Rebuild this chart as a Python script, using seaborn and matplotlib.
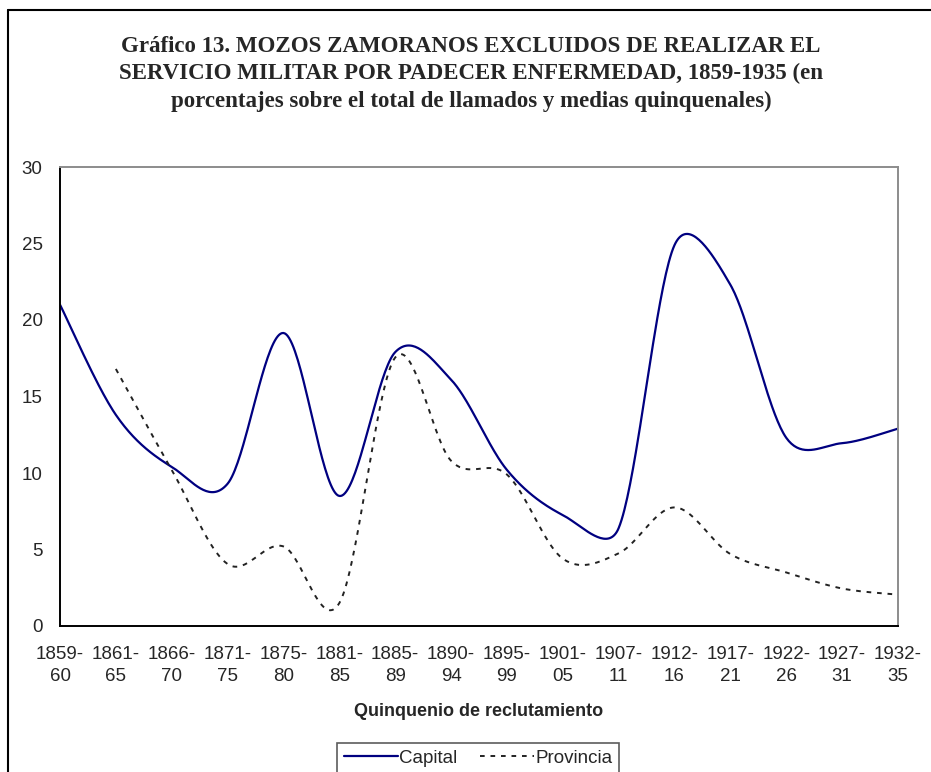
import numpy as np
import pandas as pd
import matplotlib
matplotlib.use("Agg")
import matplotlib.pyplot as plt
from matplotlib.lines import Line2D
import seaborn as sns

# ---------------- data ----------------
categories = ["1859-\n60", "1861-\n65", "1866-\n70", "1871-\n75", "1875-\n80", "1881-\n85",
              "1885-\n89", "1890-\n94", "1895-\n99", "1901-\n05", "1907-\n11", "1912-\n16",
              "1917-\n21", "1922-\n26", "1927-\n31", "1932-\n35"]
capital = [21.0, 13.8, 10.4, 9.3, 19.15, 8.5, 17.9, 16.1, 10.2, 7.25, 6.4, 24.9, 22.3, 12.3, 11.95, 12.9]
provincia = [np.nan, 16.8, 10.2, 4.05, 5.2, 1.5, 17.55, 10.8, 9.9, 4.4, 4.75, 7.75, 4.7, 3.5, 2.45, 2.05]
yticks = [0, 5, 10, 15, 20, 25, 30]
title = ("Gráfico 13. MOZOS ZAMORANOS EXCLUIDOS DE REALIZAR EL\n"
         "SERVICIO MILITAR POR PADECER ENFERMEDAD, 1859-1935 (en\n"
         "porcentajes sobre el total de llamados y medias quinquenales)")
xlabel = "Quinquenio de reclutamiento"

# ---------------- figure ----------------
sns.set_style("white")
plt.rcParams["font.family"] = ["Liberation Sans", "DejaVu Sans"]

W, H = 931, 772
fig = plt.figure(figsize=(W / 100, H / 100), dpi=100)
ax = fig.add_axes([60 / W, 1 - 626 / H, (898 - 60) / W, (626 - 167) / H])
ax.set_xlim(0, len(categories) - 1)
ax.set_ylim(0, 30)


def smooth_curve(xs, ys, n=40):
    """Excel-like smoothed line (Bezier through the points) computed in display space."""
    pts = ax.transData.transform(np.column_stack([xs, ys]))
    m = len(pts)
    out = [pts[0]]
    for i in range(m - 1):
        p0 = pts[i - 1] if i > 0 else pts[i]
        p1 = pts[i]
        p2 = pts[i + 1]
        p3 = pts[i + 2] if i + 2 < m else pts[i + 1]
        d12 = np.linalg.norm(p2 - p1)
        t1 = p2 - p0
        t2 = p3 - p1
        n1 = np.linalg.norm(t1)
        n2 = np.linalg.norm(t2)
        f1 = 1 / 6 if n1 / 6 < d12 / 2 else (d12 / 2) / n1 if n1 > 0 else 0
        f2 = 1 / 6 if n2 / 6 < d12 / 2 else (d12 / 2) / n2 if n2 > 0 else 0
        c1 = p1 + t1 * f1
        c2 = p2 - t2 * f2
        t = np.linspace(0, 1, n)[1:, None]
        seg = ((1 - t) ** 3) * p1 + 3 * ((1 - t) ** 2) * t * c1 + 3 * (1 - t) * t ** 2 * c2 + t ** 3 * p2
        out.extend(seg)
    out = np.array(out)
    return ax.transData.inverted().transform(out)


series = [("Capital", capital, "#000080", "-", 1.6),
          ("Provincia", provincia, "#222222", (0, (2.4, 3.0)), 1.4)]
for name, vals, col, ls, lw in series:
    xs = np.arange(len(vals), dtype=float)
    vs = np.array(vals, dtype=float)
    ok = ~np.isnan(vs)
    curve = smooth_curve(xs[ok], vs[ok])
    df = pd.DataFrame({"x": curve[:, 0], "y": curve[:, 1]})
    sns.lineplot(data=df, x="x", y="y", ax=ax, color=col, linewidth=lw,
                 linestyle=ls, sort=False, estimator=None, label=name)

# axes styling
ax.set_xticks(range(len(categories)))
ax.set_xticklabels(categories, fontsize=13.5, linespacing=1.4)
ax.set_yticks(yticks)
ax.set_yticklabels([str(v) for v in yticks], fontsize=13.5)
ax.tick_params(axis="both", direction="inout", length=9, width=1.1, color="black")
ax.tick_params(axis="x", pad=10)
ax.tick_params(axis="y", pad=8)
for s in ["left", "bottom"]:
    ax.spines[s].set_color("black")
    ax.spines[s].set_linewidth(1.4)
for s in ["top", "right"]:
    ax.spines[s].set_color("#8c8c8c")
    ax.spines[s].set_linewidth(1.4)
ax.set_ylabel("")
ax.set_xlabel(xlabel, fontsize=13, fontweight="bold", va="center")
ax.xaxis.set_label_coords(0.5, (626 - 711) / (626 - 167))

# legend
leg = ax.legend(loc="upper center", bbox_to_anchor=(478 / W, 1 - 743 / H),
                bbox_transform=fig.transFigure, ncol=2, frameon=True, fancybox=False,
                fontsize=13.5, handlelength=2.9, handletextpad=0.05, columnspacing=1.2,
                borderpad=0.35, borderaxespad=0)
leg.get_frame().set_edgecolor("#333333")
leg.get_frame().set_linewidth(1.2)

# title
fig.text(471 / W, 1 - 74 / H, title, ha="center", va="center", multialignment="center",
         fontsize=16.5, fontweight="bold", family=["Liberation Serif", "DejaVu Serif"],
         linespacing=1.38)

# outer chart frame
fig.add_artist(Line2D([7.5 / W, 7.5 / W], [0, 1 - 10 / H], transform=fig.transFigure,
                      color="black", lw=1.5))
fig.add_artist(Line2D([7.5 / W, 1], [1 - 10 / H, 1 - 10 / H], transform=fig.transFigure,
                      color="black", lw=1.5))

fig.savefig("out.png", dpi=100)
